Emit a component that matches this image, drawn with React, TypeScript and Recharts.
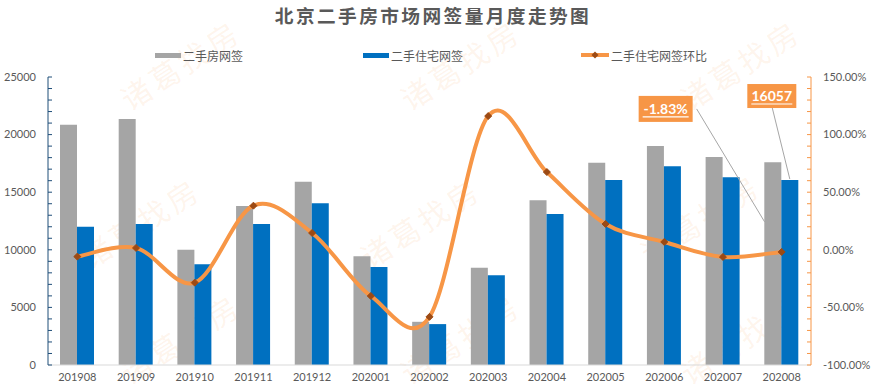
import {
  Bar,
  ComposedChart,
  LabelList,
  Line,
  XAxis,
  YAxis
} from "recharts";

const months = [
  "201908", "201909", "201910", "201911", "201912", "202001", "202002",
  "202003", "202004", "202005", "202006", "202007", "202008"
];
// 二手房网签
const resaleTotal = [20850, 21350, 10000, 13800, 15900, 9450, 3750, 8450, 14300, 17550, 19000, 18050, 17600];
// 二手住宅网签
const resaleHousing = [12000, 12250, 8750, 12250, 14050, 8500, 3550, 7800, 13100, 16050, 17250, 16300, 16057];
// 二手住宅网签环比 (%)
const housingMoM = [-5.9, 1.6, -28.5, 38.3, 14.6, -40.1, -58.2, 116.1, 67.5, 22.4, 6.8, -6.2, -1.83];

const leftLabels = [0, 5000, 10000, 15000, 20000, 25000];
const rightLabels = [-100, -50, 0, 50, 100, 150];

const data = months.map((month, i) => ({
  month,
  total: resaleTotal[i],
  housing: resaleHousing[i],
  mom: housingMoM[i]
}));

const leftMinor = Array.from({ length: 26 }, (_, i) => i * 1000);
const rightMinor = Array.from({ length: 26 }, (_, i) => -100 + i * 10);

const GRAY = "#A5A5A5";
const BLUE = "#0070C0";
const ORANGE = "#F79646";
const DOT = "#9C4A14";
const NAVY = "#1F4E79";
const TEXT = "#595959";
const CN = '"Noto Sans CJK SC", sans-serif';
const NUM = 'Lato, "Noto Sans", sans-serif';

// Excel-like smoothed line (Catmull-Rom through the points)
function smoothCurve(context: any) {
  let pts: number[][] = [];
  return {
    areaStart() {},
    areaEnd() {},
    lineStart() {
      pts = [];
    },
    lineEnd() {
      const n = pts.length;
      if (!n) return;
      context.moveTo(pts[0][0], pts[0][1]);
      for (let i = 0; i < n - 1; i++) {
        const p0 = pts[i - 1] || pts[i];
        const p1 = pts[i];
        const p2 = pts[i + 1];
        const p3 = pts[i + 2] || p2;
        context.bezierCurveTo(
          p1[0] + (p2[0] - p0[0]) / 6,
          p1[1] + (p2[1] - p0[1]) / 6,
          p2[0] - (p3[0] - p1[0]) / 6,
          p2[1] - (p3[1] - p1[1]) / 6,
          p2[0],
          p2[1]
        );
      }
    },
    point(x: number, y: number) {
      pts.push([+x, +y]);
    }
  };
}

const LeftTick = (props: any) => {
  const { y, payload } = props;
  const v = payload.value;
  return (
    <g>
      <line x1={48} x2={52} y1={y} y2={y} stroke={NAVY} />
      {leftLabels.includes(v) && (
        <text x={36} y={y} dy="0.35em" textAnchor="end" fontSize={11} fill={TEXT} fontFamily={NUM}>
          {v}
        </text>
      )}
    </g>
  );
};

const RightTick = (props: any) => {
  const { y, payload } = props;
  const v = payload.value;
  return (
    <g>
      <line x1={807} x2={811} y1={y} y2={y} stroke={ORANGE} />
      {rightLabels.includes(v) && (
        <text x={823} y={y} dy="0.35em" textAnchor="start" fontSize={11} fill={TEXT} fontFamily={NUM}>
          {v.toFixed(2)}%
        </text>
      )}
    </g>
  );
};

const Diamond = (props: any) => {
  const { cx, cy } = props;
  if (cx == null || cy == null) return null;
  const r = 3.5;
  return (
    <path
      d={`M${cx},${cy - r}L${cx + r},${cy}L${cx},${cy + r}L${cx - r},${cy}Z`}
      fill={DOT}
      stroke={DOT}
    />
  );
};

const LineCallout = (props: any) => {
  const { x, y, index, value } = props;
  if (index !== data.length - 1) return null;
  const bx = x - 143;
  const by = y - 156;
  return (
    <g>
      <line x1={bx + 58} y1={by + 13} x2={x - 17} y2={y - 30} stroke="#A6A6A6" />
      <rect x={bx} y={by} width={54} height={26} fill={ORANGE} />
      <text x={bx + 27} y={by + 18} textAnchor="middle" fontSize={14} fontWeight="bold" fill="#fff" fontFamily={NUM}>
        {value.toFixed(2)}%
      </text>
      <line x1={bx + 4} x2={bx + 50} y1={by + 21} y2={by + 21} stroke="#fff" strokeWidth={1.2} />
    </g>
  );
};

const BarCallout = (props: any) => {
  const { x, y, width, index, value } = props;
  if (index !== data.length - 1) return null;
  const cx = x + width / 2;
  const bx = cx - 42.5;
  const by = y - 96;
  return (
    <g>
      <line x1={cx - 17.5} y1={by + 24} x2={cx} y2={y - 1} stroke="#A6A6A6" />
      <rect x={bx} y={by} width={49} height={24} fill={ORANGE} />
      <text x={bx + 24.5} y={by + 17} textAnchor="middle" fontSize={14} fontWeight="bold" fill="#fff" fontFamily={NUM}>
        {value}
      </text>
      <line x1={bx + 4} x2={bx + 45} y1={by + 20} y2={by + 20} stroke="#fff" strokeWidth={1.2} />
    </g>
  );
};

const watermarks = [
  [180, 64], [460, 64], [740, 64],
  [140, 222], [420, 222], [700, 218],
  [180, 338], [460, 338], [740, 338]
];

const legendItems = [
  { left: 155, label: "二手房网签", kind: "bar", color: GRAY },
  { left: 363, label: "二手住宅网签", kind: "bar", color: BLUE },
  { left: 581, label: "二手住宅网签环比", kind: "line", color: ORANGE }
];

export default function App() {
  return (
    <div style={{ position: "relative", width: 871, height: 390, background: "#fff", overflow: "hidden" }}>
      <style>{"body{margin:0}"}</style>
      {watermarks.map(([x, y], i) => (
        <span
          key={i}
          style={{
            position: "absolute",
            left: x,
            top: y,
            transform: "translate(-50%, -50%) rotate(-33deg)",
            fontFamily: CN,
            fontSize: 30,
            letterSpacing: 4,
            whiteSpace: "nowrap",
            color: "rgba(247,150,70,0.1)"
          }}
        >
          诸葛找房
        </span>
      ))}
      <div style={{ position: "absolute", left: 0, top: 0 }}>
        <ComposedChart
          width={871}
          height={390}
          data={data}
          barGap={0}
          margin={{ top: 77, right: 0, bottom: 0, left: 0 }}
        >
          <XAxis
            dataKey="month"
            height={25}
            interval={0}
            tickLine={false}
            axisLine={{ stroke: "#D9D9D9" }}
            tick={{ fontSize: 11, fill: TEXT, fontFamily: NUM }}
          />
          <YAxis
            yAxisId="left"
            width={48}
            domain={[0, 25000]}
            ticks={leftMinor}
            interval={0}
            tickLine={false}
            axisLine={{ stroke: NAVY }}
            tick={LeftTick}
          />
          <YAxis
            yAxisId="right"
            orientation="right"
            width={60}
            domain={[-100, 150]}
            ticks={rightMinor}
            interval={0}
            tickLine={false}
            axisLine={{ stroke: ORANGE }}
            tick={RightTick}
          />
          <Bar yAxisId="left" dataKey="total" fill={GRAY} barSize={17} isAnimationActive={false} />
          <Bar yAxisId="left" dataKey="housing" fill={BLUE} barSize={17} isAnimationActive={false}>
            <LabelList dataKey="housing" content={BarCallout} />
          </Bar>
          <Line
            yAxisId="right"
            dataKey="mom"
            type={smoothCurve as any}
            stroke={ORANGE}
            strokeWidth={4}
            dot={<Diamond />}
            activeDot={false}
            isAnimationActive={false}
          >
            <LabelList dataKey="mom" content={LineCallout} />
          </Line>
        </ComposedChart>
      </div>
      <div
        style={{
          position: "absolute",
          left: 0,
          top: 3,
          width: 866,
          textAlign: "center",
          fontFamily: CN,
          fontSize: 18.7,
          fontWeight: "bold",
          letterSpacing: 2.4,
          color: TEXT,
          lineHeight: "24px"
        }}
      >
        北京二手房市场网签量月度走势图
      </div>
      {legendItems.map((it) => (
        <div
          key={it.label}
          style={{
            position: "absolute",
            left: it.left,
            top: 46,
            height: 18,
            display: "flex",
            alignItems: "center",
            fontFamily: CN,
            fontSize: 12,
            color: TEXT
          }}
        >
          {it.kind === "bar" ? (
            <span style={{ display: "inline-block", width: 26, height: 5, background: it.color, marginRight: 2 }} />
          ) : (
            <svg width={28} height={10} style={{ marginRight: 2 }}>
              <line x1={0} x2={28} y1={5} y2={5} stroke={it.color} strokeWidth={4} />
              <path d="M14,1.5L17.5,5L14,8.5L10.5,5Z" fill={DOT} />
            </svg>
          )}
          {it.label}
        </div>
      ))}
    </div>
  );
}
